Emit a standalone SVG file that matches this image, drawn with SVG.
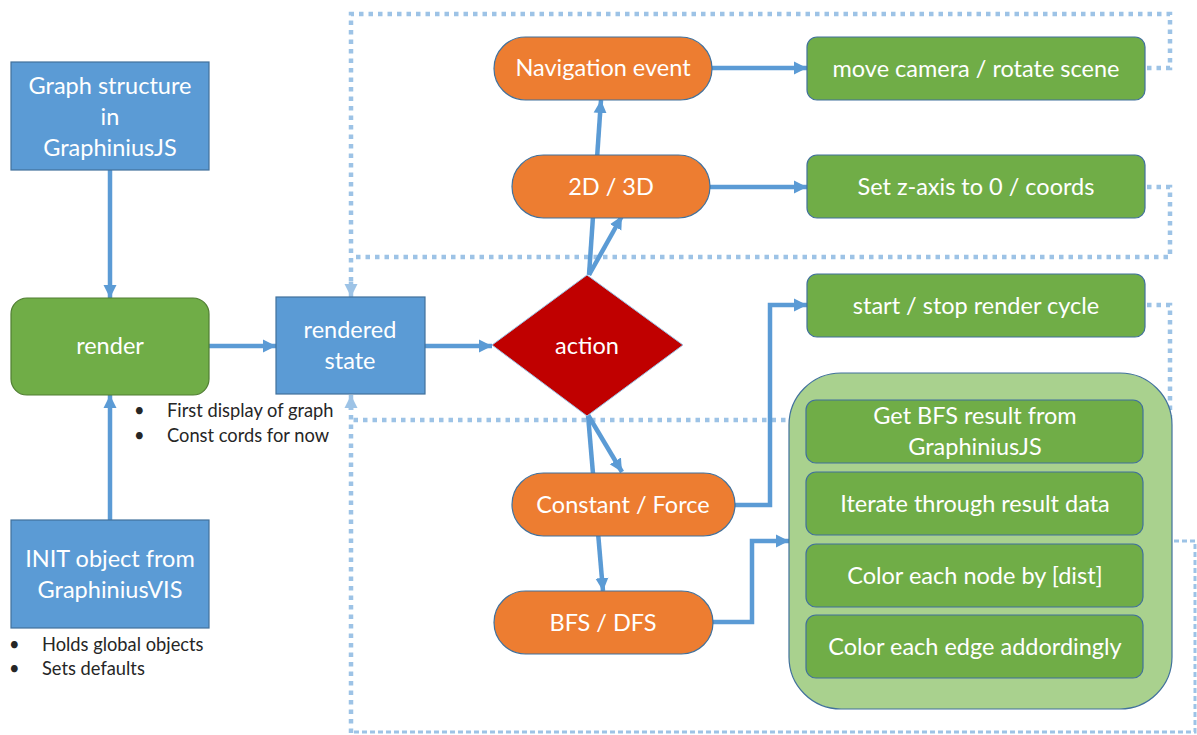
<svg xmlns="http://www.w3.org/2000/svg" width="1197" height="735" viewBox="0 0 1197 735">
  <style>
    .t { font-family: Lato, "Liberation Sans", sans-serif; font-size: 23.5px; fill: #ffffff; text-anchor: middle; }
    .note { font-family: Lato, "Liberation Sans", sans-serif; font-size: 18.3px; fill: #262626; }
    .blue { fill: #5B9BD5; stroke: #41719C; stroke-width: 1.2; }
    .green { fill: #70AD47; stroke: #507E32; stroke-width: 1.2; }
    .greenb { fill: #70AD47; stroke: #41719C; stroke-width: 1.2; }
    .orange { fill: #ED7D31; stroke: #41719C; stroke-width: 1.2; }
    .flow { fill: none; stroke: #5B9BD5; stroke-width: 4.5; }
    .loop { fill: none; stroke: #9DC3E6; stroke-width: 4.5; stroke-dasharray: 4.5 5; }
    .loopthin { fill: none; stroke: #9DC3E6; stroke-width: 3; stroke-dasharray: 5 3; }
  </style>
  <defs>
    <marker id="arr" viewBox="0 0 10 10" refX="10" refY="5" markerWidth="13" markerHeight="14" markerUnits="userSpaceOnUse" orient="auto">
      <path d="M0,0 L10,5 L0,10 z" fill="#5B9BD5"/>
    </marker>
    <marker id="arrLight" viewBox="0 0 10 10" refX="10" refY="5" markerWidth="13" markerHeight="14" markerUnits="userSpaceOnUse" orient="auto">
      <path d="M0,0 L10,5 L0,10 z" fill="#9DC3E6"/>
    </marker>
  </defs>

  <g id="connectors">
    <!-- feedback loops back into the rendered state -->
    <path class="loop" d="M1147,68 H1170 V14 H351 V284"/>
    <line x1="351" y1="282" x2="351" y2="297" stroke="#9DC3E6" stroke-width="4.5" marker-end="url(#arrLight)"/>
    <path class="loop" d="M1147,187 H1170 V257 H351"/>
    <path class="loop" d="M1147,305 H1170 V420 H351"/>
    <path class="loop" d="M351,733 V408"/>
    <line x1="351" y1="410" x2="351" y2="395" stroke="#9DC3E6" stroke-width="4.5" marker-end="url(#arrLight)"/>
    <path class="loopthin" d="M1174,541 H1195 V732 H351"/>

    <!-- main flow -->
    <line class="flow" x1="110" y1="170" x2="110" y2="298" marker-end="url(#arr)"/>
    <line class="flow" x1="110" y1="520" x2="110" y2="395" marker-end="url(#arr)"/>
    <line class="flow" x1="209" y1="346" x2="276" y2="346" marker-end="url(#arr)"/>
    <line class="flow" x1="425" y1="346" x2="492" y2="346" marker-end="url(#arr)"/>
    <line class="flow" x1="589" y1="275" x2="601" y2="100" marker-end="url(#arr)"/>
    <line class="flow" x1="589" y1="275" x2="622" y2="216" marker-end="url(#arr)"/>
    <line class="flow" x1="588" y1="415" x2="622" y2="472" marker-end="url(#arr)"/>
    <line class="flow" x1="588" y1="415" x2="603" y2="591" marker-end="url(#arr)"/>
    <line class="flow" x1="712" y1="68" x2="807" y2="68" marker-end="url(#arr)"/>
    <line class="flow" x1="710" y1="187" x2="807" y2="187" marker-end="url(#arr)"/>
    <path class="flow" d="M735,505 H770 V305 H807" marker-end="url(#arr)"/>
    <path class="flow" d="M713,622 H752 V541 H789" marker-end="url(#arr)"/>
  </g>

  <g id="graph-structure">
    <rect class="blue" x="11" y="62" width="198" height="108"/>
    <text class="t" x="110" y="94">Graph structure</text>
    <text class="t" x="110" y="125">in</text>
    <text class="t" x="110" y="156">GraphiniusJS</text>
  </g>

  <g id="render">
    <rect class="green" x="11" y="298" width="198" height="97" rx="16"/>
    <text class="t" x="110" y="354">render</text>
  </g>
  <g id="render-notes">
    <text class="note" x="134" y="417">•</text>
    <text class="note" x="167" y="417">First display of graph</text>
    <text class="note" x="134" y="442">•</text>
    <text class="note" x="167" y="442">Const cords for now</text>
  </g>

  <g id="init">
    <rect class="blue" x="11" y="520" width="198" height="108"/>
    <text class="t" x="110" y="567">INIT object from</text>
    <text class="t" x="110" y="598">GraphiniusVIS</text>
  </g>
  <g id="init-notes">
    <text class="note" x="9" y="651">•</text>
    <text class="note" x="42" y="651">Holds global objects</text>
    <text class="note" x="9" y="675">•</text>
    <text class="note" x="42" y="675">Sets defaults</text>
  </g>

  <g id="rendered-state">
    <rect class="blue" x="276" y="297" width="149" height="97"/>
    <text class="t" x="350" y="338">rendered</text>
    <text class="t" x="350" y="369">state</text>
  </g>

  <g id="action">
    <polygon points="587,275 683,345 587,416 492,345" fill="#C00000" stroke="#9DC3E6" stroke-width="1"/>
    <text class="t" x="587" y="354">action</text>
  </g>

  <g id="navigation-event">
    <rect class="orange" x="494" y="37" width="218" height="63" rx="31.5"/>
    <text class="t" x="603" y="76">Navigation event</text>
  </g>
  <g id="dim-toggle">
    <rect class="orange" x="512" y="155" width="198" height="63" rx="31.5"/>
    <text class="t" x="611" y="195">2D / 3D</text>
  </g>
  <g id="layout-toggle">
    <rect class="orange" x="512" y="473" width="223" height="63" rx="31.5"/>
    <text class="t" x="623" y="513">Constant / Force</text>
  </g>
  <g id="search">
    <rect class="orange" x="494" y="591" width="219" height="63" rx="31.5"/>
    <text class="t" x="603" y="631">BFS / DFS</text>
  </g>

  <g id="move-camera">
    <rect class="greenb" x="807" y="37" width="338" height="63" rx="10"/>
    <text class="t" x="976" y="77">move camera / rotate scene</text>
  </g>
  <g id="set-z-axis">
    <rect class="greenb" x="807" y="155" width="338" height="63" rx="10"/>
    <text class="t" x="976" y="195">Set z-axis to 0 / coords</text>
  </g>
  <g id="render-cycle">
    <rect class="greenb" x="807" y="274" width="338" height="63" rx="10"/>
    <text class="t" x="976" y="314">start / stop render cycle</text>
  </g>

  <g id="bfs-steps">
    <rect x="789" y="373" width="383" height="336" rx="52" fill="#A9D18E" stroke="#41719C" stroke-width="1.2"/>
    <g id="step-get-result">
      <rect class="greenb" x="806" y="400" width="337" height="63" rx="10"/>
      <text class="t" x="975" y="424">Get BFS result from</text>
      <text class="t" x="975" y="455">GraphiniusJS</text>
    </g>
    <g id="step-iterate">
      <rect class="greenb" x="806" y="472" width="337" height="63" rx="10"/>
      <text class="t" x="975" y="512">Iterate through result data</text>
    </g>
    <g id="step-color-nodes">
      <rect class="greenb" x="806" y="544" width="337" height="63" rx="10"/>
      <text class="t" x="975" y="584">Color each node by [dist]</text>
    </g>
    <g id="step-color-edges">
      <rect class="greenb" x="806" y="615" width="337" height="63" rx="10"/>
      <text class="t" x="975" y="655">Color each edge addordingly</text>
    </g>
  </g>
</svg>
